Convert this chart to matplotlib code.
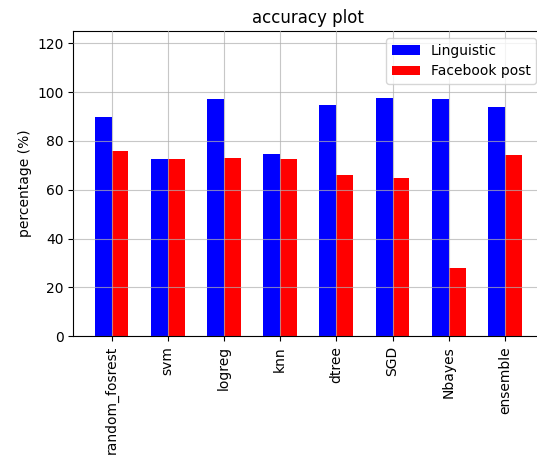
import numpy as np
from matplotlib import pyplot as plt

models = ['random_fosrest', 'svm', 'logreg', 'knn', 'dtree', 'SGD', 'Nbayes', 'ensemble']
linguistic = [89.6, 72.5, 97.1, 74.8, 94.8, 97.7, 97.1, 93.7]
facebook_post = [75.9, 72.5, 73.0, 72.5, 66.2, 65.0, 27.8, 74.1]

fig = plt.figure(figsize=(5.37, 4.57), dpi=100)
# axes runs a little past the right edge, like the cropped original
ax = fig.add_axes([0.1365, 0.2641, 0.875, 0.668])

x = np.arange(len(models))
w = 0.3
ax.bar(x - w / 2, linguistic, w, color='blue', label='Linguistic')
ax.bar(x + w / 2, facebook_post, w, color='red', label='Facebook post')

ax.set_xticks(x)
ax.set_xticklabels(models, rotation=90)
ax.set_ylim(0, 125)
ax.set_yticks(range(0, 121, 20))
ax.set_ylabel('percentage (%)')
ax.set_title('accuracy plot')
ax.set_axisbelow(False)
ax.grid(True, color='#b0b0b0', alpha=0.7, linewidth=0.8)
ax.legend(loc='upper right')

fig.savefig('out.png', dpi=100)
